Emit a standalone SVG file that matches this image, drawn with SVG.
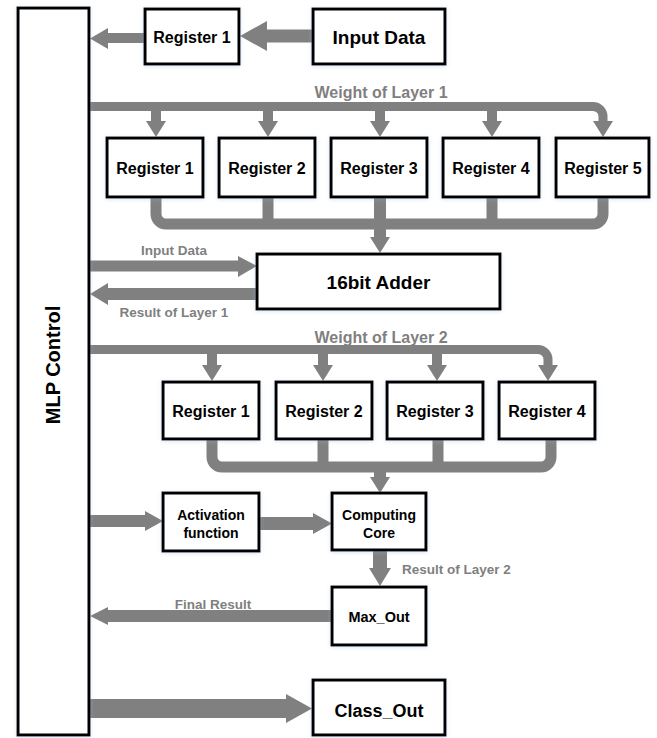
<svg xmlns="http://www.w3.org/2000/svg" width="657" height="738" viewBox="0 0 657 738">
<defs>
<filter id="sh" x="-10%" y="-10%" width="120%" height="120%">
<feDropShadow dx="0" dy="1" stdDeviation="2" flood-color="#9db5d8" flood-opacity="0.35"/>
</filter>
</defs>
<style>
.box{fill:#fff;stroke:#000;stroke-width:3;filter:url(#sh)}
.t{font-family:"Liberation Sans",Arial,sans-serif;font-weight:bold;fill:#000;text-anchor:middle;dominant-baseline:central}
.g{font-family:"Liberation Sans",Arial,sans-serif;font-weight:bold;fill:#7f7f7f;text-anchor:middle;dominant-baseline:central;font-size:13.5px}
.gw{font-size:16px}
.bus{fill:none;stroke:#808080;stroke-linejoin:round}
.ah{fill:#808080;stroke:none}
</style>
<rect width="657" height="738" fill="#fff"/>

<g id="connectors">
<polygon class="ah" points="313,29.5 267,29.5 267,21 240,36 267,51 267,42.5 313,42.5"/>
<polygon class="ah" points="144,33 108,33 108,28 90,38.5 108,49 108,43 144,43"/>
<path class="bus" stroke-width="9" d="M89,106.5 H593 A10,10 0 0 1 603,116.5 V123"/>
<path class="bus" stroke-width="10" d="M156,106 V123 M268,106 V123 M380,106 V123 M492,106 V123"/>
<polygon class="ah" points="146,121 166,121 156,137"/>
<polygon class="ah" points="258,121 278,121 268,137"/>
<polygon class="ah" points="370,121 390,121 380,137"/>
<polygon class="ah" points="482,121 502,121 492,137"/>
<polygon class="ah" points="593,121 613,121 603,137"/>
<path class="bus" stroke-width="11" d="M156,197 V214 A10,10 0 0 0 166,224 H593 A10,10 0 0 0 603,214 V197"/>
<path class="bus" stroke-width="11" d="M268,197 V224 M492,197 V224"/>
<path class="bus" stroke-width="12" d="M380,197 V239"/>
<polygon class="ah" points="370,237 390,237 380,253"/>
<polygon class="ah" points="89,260.5 238,260.5 238,256 257,266 238,277 238,271.5 89,271.5"/>
<polygon class="ah" points="257,288 108,288 108,283 90,294 108,305 108,300 257,300"/>
<path class="bus" stroke-width="9" d="M89,349.5 H538 A10,10 0 0 1 548,359.5 V367"/>
<path class="bus" stroke-width="10" d="M212,349 V367 M323,349 V367 M437,349 V367"/>
<polygon class="ah" points="202,365 222,365 212,381"/>
<polygon class="ah" points="313,365 333,365 323,381"/>
<polygon class="ah" points="427,365 447,365 437,381"/>
<polygon class="ah" points="538,365 558,365 548,381"/>
<path class="bus" stroke-width="11" d="M212,439 V457 A10,10 0 0 0 222,467 H541 A10,10 0 0 0 551,457 V439"/>
<path class="bus" stroke-width="11" d="M323,439 V467 M438,439 V467"/>
<path class="bus" stroke-width="12" d="M380,467 V479"/>
<polygon class="ah" points="370,477 390,477 380,493"/>
<polygon class="ah" points="89,515 145,515 145,511 163,521 145,531 145,527 89,527"/>
<polygon class="ah" points="259,517 313,517 313,513 332,523.5 313,534 313,530 259,530"/>
<polygon class="ah" points="373,550 387,550 387,568 391,568 380,586 369,568 373,568"/>
<polygon class="ah" points="332,610 108,610 108,607 90,616 108,625 108,622 332,622"/>
<polygon class="ah" points="89,699 286,699 286,694 312,708.5 286,723 286,718 89,718"/>
</g>

<g id="labels">
<text class="g gw" x="381" y="92">Weight of Layer 1</text>
<text class="g" x="174" y="250">Input Data</text>
<text class="g" x="174" y="312">Result of Layer 1</text>
<text class="g gw" x="381" y="337">Weight of Layer 2</text>
<text class="g" x="402" y="569" style="text-anchor:start">Result of Layer 2</text>
<text class="g" x="213" y="604">Final Result</text>
</g>

<g id="mlp-control">
<rect class="box" x="18" y="8" width="71" height="727"/>
<text class="t" transform="translate(53,365) rotate(-90)" font-size="20">MLP Control</text>
</g>
<g id="register-in">
<rect class="box" x="145" y="9" width="94" height="55"/>
<text class="t" x="192" y="37" font-size="16">Register 1</text>
</g>
<g id="input-data">
<rect class="box" x="313" y="9" width="132" height="55"/>
<text class="t" x="379" y="37" font-size="19">Input Data</text>
</g>

<g id="l1-register-1"><rect class="box" x="107" y="138" width="96" height="59"/><text class="t" x="155" y="168" font-size="16">Register 1</text></g>
<g id="l1-register-2"><rect class="box" x="219" y="138" width="96" height="59"/><text class="t" x="267" y="168" font-size="16">Register 2</text></g>
<g id="l1-register-3"><rect class="box" x="331" y="138" width="96" height="59"/><text class="t" x="379" y="168" font-size="16">Register 3</text></g>
<g id="l1-register-4"><rect class="box" x="443" y="138" width="96" height="59"/><text class="t" x="491" y="168" font-size="16">Register 4</text></g>
<g id="l1-register-5"><rect class="box" x="556" y="138" width="93" height="59"/><text class="t" x="603" y="168" font-size="16">Register 5</text></g>

<g id="adder">
<rect class="box" x="257" y="254" width="243" height="55"/>
<text class="t" x="378.5" y="282" font-size="19">16bit Adder</text>
</g>

<g id="l2-register-1"><rect class="box" x="163" y="382" width="96" height="57"/><text class="t" x="211" y="411" font-size="16">Register 1</text></g>
<g id="l2-register-2"><rect class="box" x="276" y="382" width="96" height="57"/><text class="t" x="324" y="411" font-size="16">Register 2</text></g>
<g id="l2-register-3"><rect class="box" x="387" y="382" width="96" height="57"/><text class="t" x="435" y="411" font-size="16">Register 3</text></g>
<g id="l2-register-4"><rect class="box" x="499" y="382" width="96" height="57"/><text class="t" x="547" y="411" font-size="16">Register 4</text></g>

<g id="activation">
<rect class="box" x="163" y="493" width="96" height="58"/>
<text class="t" x="211" y="515" font-size="14">Activation</text>
<text class="t" x="211" y="533" font-size="14">function</text>
</g>
<g id="computing-core">
<rect class="box" x="332" y="493" width="94" height="57"/>
<text class="t" x="379" y="515" font-size="14">Computing</text>
<text class="t" x="379" y="533" font-size="14">Core</text>
</g>
<g id="max-out">
<rect class="box" x="332" y="587" width="94" height="58"/>
<text class="t" x="379" y="617" font-size="14.5">Max_Out</text>
</g>
<g id="class-out">
<rect class="box" x="313" y="680" width="132" height="55"/>
<text class="t" x="379" y="711" font-size="18">Class_Out</text>
</g>
</svg>
